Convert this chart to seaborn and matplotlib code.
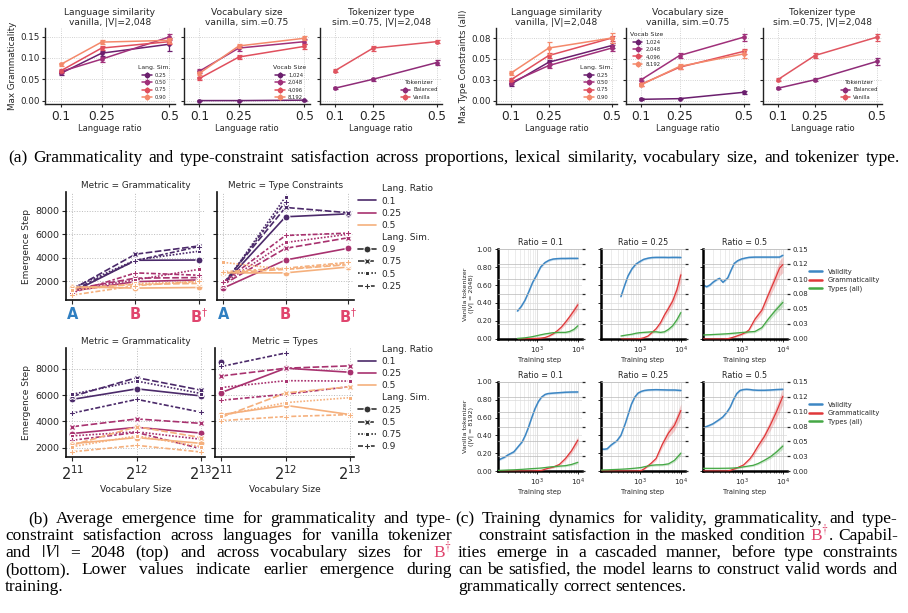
import numpy as np
import pandas as pd
import matplotlib
matplotlib.use("Agg")
import matplotlib.pyplot as plt
import seaborn as sns
from matplotlib.lines import Line2D
from matplotlib.ticker import LogLocator, NullFormatter, NullLocator

sns.set_theme(style="ticks")
plt.rcParams["font.family"] = ["DejaVu Sans"]
plt.rcParams["mathtext.fontset"] = "dejavusans"

W, H = 908, 613
fig = plt.figure(figsize=(W / 100, H / 100), dpi=100)


def ax_px(l, t, r, b):
    return fig.add_axes([l / W, 1 - b / H, (r - l) / W, (b - t) / H])


# ---------------------------------------------------------------- (a) data
lang_ratio = [0.1, 0.25, 0.5]
ratio_ticklabels = ["0.1", "0.25", "0.5"]
sim_labels = ["0.25", "0.50", "0.75", "0.90"]
vocab_labels = ["1,024", "2,048", "4,096", "8,192"]
tok_labels = ["Balanced", "Vanilla"]

gram_sim = [[0.064, 0.111, 0.132], [0.068, 0.097, 0.149], [0.070, 0.123, 0.138], [0.085, 0.137, 0.141]]
gram_sim_err = [[0.004, 0.006, 0.015], [0.004, 0.006, 0.008], [0.003, 0.005, 0.006], [0.004, 0.005, 0.005]]
gram_vocab = [[0.000, 0.000, 0.001], [0.069, 0.123, 0.138], [0.052, 0.102, 0.127], [0.064, 0.128, 0.146]]
gram_vocab_err = [[0.001, 0.001, 0.001], [0.004, 0.006, 0.006], [0.003, 0.005, 0.006], [0.004, 0.005, 0.005]]
gram_tok = [[0.029, 0.050, 0.089], [0.070, 0.123, 0.138]]
gram_tok_err = [[0.003, 0.004, 0.005], [0.004, 0.006, 0.004]]

type_sim = [[0.0197, 0.046, 0.066], [0.0217, 0.042, 0.063], [0.025, 0.054, 0.075], [0.033, 0.063, 0.075]]
type_sim_err = [[0.002, 0.003, 0.003], [0.002, 0.003, 0.004], [0.002, 0.003, 0.003], [0.002, 0.007, 0.006]]
type_vocab = [[0.0016, 0.0024, 0.010], [0.025, 0.054, 0.076], [0.0196, 0.040, 0.059], [0.019, 0.041, 0.056]]
type_vocab_err = [[0.001, 0.001, 0.002], [0.002, 0.003, 0.004], [0.002, 0.002, 0.003], [0.002, 0.003, 0.005]]
type_tok = [[0.0148, 0.025, 0.047], [0.025, 0.054, 0.076]]
type_tok_err = [[0.001, 0.002, 0.004], [0.002, 0.003, 0.004]]

four_colors = ["#6b1f6e", "#a0307a", "#e04f5d", "#f4896b"]
tok_colors = ["#8f2c78", "#e05560"]


def panel_a(ax, means, errs, labels, colors, title, leg_title, leg_loc,
            yticks, yticklabels, ylim, ylabel=None):
    for m, e, c in zip(means, errs, colors):
        d = pd.DataFrame({"ratio": lang_ratio, "val": m})
        sns.lineplot(data=d, x="ratio", y="val", color=c, marker="o", markersize=3.4,
                     markeredgewidth=0, linewidth=1.1, ax=ax, legend=False)
        ax.errorbar(lang_ratio, m, yerr=e, fmt="none", ecolor=c, elinewidth=0.9,
                    capsize=1.8, capthick=0.9)
    handles = [(Line2D([], [], color=c, marker="o", ms=3, lw=1.1),
                Line2D([], [], color=c, marker="|", ms=5, ls="none", mew=0.9)) for c in colors]
    ax.legend(handles, labels, title=leg_title, loc=leg_loc, fontsize=3.8, title_fontsize=4.4,
              frameon=False, handlelength=1.8, labelspacing=0.45, borderaxespad=0.4,
              handletextpad=0.6)
    ax.set_xlim(0.041, 0.521)
    ax.set_xticks(lang_ratio)
    ax.set_xticklabels(ratio_ticklabels, fontsize=8.7)
    ax.set_ylim(ylim)
    ax.set_yticks(yticks)
    if ylabel:
        ax.set_yticklabels(yticklabels, fontsize=6.3)
        ax.set_ylabel(ylabel, fontsize=6.3, labelpad=2)
    else:
        ax.set_yticklabels([])
        ax.set_ylabel("")
    ax.set_xlabel("Language ratio", fontsize=6.0, labelpad=1)
    ax.set_title(title, fontsize=6.6, pad=2.5, linespacing=1.05)
    ax.grid(True, ls=":", lw=0.6, color="#c4c4c4")
    for s in ["top", "right"]:
        ax.spines[s].set_visible(False)
    for s in ["left", "bottom"]:
        ax.spines[s].set_linewidth(1.0)
        ax.spines[s].set_color("#222222")
    ax.tick_params(axis="both", length=2.5, width=0.8, pad=1.5)


g_ticks = [0, 0.05, 0.10, 0.15]
g_labels = ["0.00", "0.05", "0.10", "0.15"]
g_lim = (-0.008, 0.17)
t_ticks = [0, 0.025, 0.05, 0.075]
t_labels = ["0.00", "0.03", "0.05", "0.08"]
t_lim = (-0.004, 0.087)

a1 = ax_px(45, 28, 175, 104)
a2 = ax_px(184, 28, 310, 104)
a3 = ax_px(320, 28, 442, 104)
a4 = ax_px(496, 28, 617, 104)
a5 = ax_px(626, 28, 749, 104)
a6 = ax_px(763, 28, 882, 104)

panel_a(a1, gram_sim, gram_sim_err, sim_labels, four_colors,
        "Language similarity\nvanilla, |V|=2,048", "Lang. Sim.", "lower right",
        g_ticks, g_labels, g_lim, "Max Grammaticality")
panel_a(a2, gram_vocab, gram_vocab_err, vocab_labels, four_colors,
        "Vocabulary size\nvanilla, sim.=0.75", "Vocab Size", "lower right",
        g_ticks, g_labels, g_lim)
panel_a(a3, gram_tok, gram_tok_err, tok_labels, tok_colors,
        "Tokenizer type\nsim.=0.75, |V|=2,048", "Tokenizer", "lower right",
        g_ticks, g_labels, g_lim)
panel_a(a4, type_sim, type_sim_err, sim_labels, four_colors,
        "Language similarity\nvanilla, |V|=2,048", "Lang. Sim.", "lower right",
        t_ticks, t_labels, t_lim, "Max Type Constraints (all)")
panel_a(a5, type_vocab, type_vocab_err, vocab_labels, four_colors,
        "Vocabulary size\nvanilla, sim.=0.75", "Vocab Size", "upper left",
        t_ticks, t_labels, t_lim)
panel_a(a6, type_tok, type_tok_err, tok_labels, tok_colors,
        "Tokenizer type\nsim.=0.75, |V|=2,048", "Tokenizer", "lower right",
        t_ticks, t_labels, t_lim)

# ---------------------------------------------------------------- (b) data
ratio_levels = ["0.1", "0.25", "0.5"]
stage_labels = ["A", "B", "B$^{\\dagger}$"]
stage_colors = ["#2f7fc1", "#e0456e", "#e0456e"]
sim_top = ["0.9", "0.75", "0.5", "0.25"]
sim_bottom = ["0.25", "0.5", "0.75", "0.9"]
vocab_sizes = [2048, 4096, 8192]
nan = float("nan")

# rows follow sim_top order; columns A, B, B-dagger
gram_stage_r01 = [[1050, 3780, 3800], [1300, 4300, 5000], [1400, 3800, 4550], [1200, 3750, 4950]]
gram_stage_r025 = [[1150, 1950, 2100], [1300, 2250, 2300], [1250, 2100, 3000], [1000, 2700, 2500]]
gram_stage_r05 = [[1500, 1400, 1450], [1400, 1700, 1800], [1200, 1800, 1900], [800, 1600, 2000]]
type_stage_r01 = [[1700, 7500, 7750], [1800, 8300, 7850], [1600, 9200, nan], [1700, 8800, nan]]
type_stage_r025 = [[1400, 3800, 4800], [1700, 4800, 5700], [1800, 5300, 6000], [1900, 5900, 6100]]
type_stage_r05 = [[2700, 2700, 3200], [2700, 3000, 3400], [3600, 3000, 3500], [2800, 3100, 3600]]

# rows follow sim_bottom order; columns 2^11, 2^12, 2^13
gram_vocab_r01 = [[5680, 6480, 5940], [5910, 7330, 6380], [6070, 7070, 6120], [4630, 5680, 4700]]
gram_vocab_r025 = [[3080, 3550, 3110], [3600, 4190, 3850], [2900, 3210, 2640], [2570, 3160, 1920]]
gram_vocab_r05 = [[2310, 2770, 2330], [2200, 3600, 2770], [2080, 2900, 2080], [1690, 2180, 1670]]
type_vocab_r01 = [[8490, nan, nan], [nan, nan, nan], [nan, nan, nan], [8180, 9210, nan]]
type_vocab_r025 = [[6200, 8050, 7740], [7460, 8050, 8230], [6580, 7100, 7070], [5610, 6070, 6650]]
type_vocab_r05 = [[4520, 5220, 4520], [4320, 6170, 6640], [4450, 5430, 5810], [4060, 4370, 4520]]

b_palette = ["#4b2a6a", "#a8326f", "#f5b07d"]


def long_df(blocks, xs, sims):
    rows = []
    for rl, block in zip(ratio_levels, blocks):
        for sl, vals in zip(sims, block):
            for x, v in zip(xs, vals):
                if not np.isnan(v):
                    rows.append({"x": x, "Emergence Step": v, "Lang. Ratio": rl, "Lang. Sim.": sl})
    return pd.DataFrame(rows)


def style_b(ax, title, first):
    ax.set_title(title, fontsize=6.4, pad=3)
    ax.grid(True, ls=":", lw=0.7, color="#bbbbbb")
    for s in ["top", "right"]:
        ax.spines[s].set_visible(False)
    for s in ["left", "bottom"]:
        ax.spines[s].set_linewidth(1.2)
        ax.spines[s].set_color("#111111")
    ax.set_yticks([2000, 4000, 6000, 8000])
    ax.tick_params(axis="y", labelsize=6.8, length=3, width=0.8, pad=2)
    ax.tick_params(axis="x", length=3, width=0.8, pad=2)
    if first:
        ax.set_ylabel("Emergence Step", fontsize=6.5, labelpad=3)
    else:
        ax.set_ylabel("")
        ax.tick_params(axis="y", labelleft=False)


x_stage = [0, 1, 2]
b1 = ax_px(66, 192, 205, 300)
b2 = ax_px(217, 192, 354, 300)
b2.sharey(b1)
for ax, blocks, title, first in [(b1, [gram_stage_r01, gram_stage_r025, gram_stage_r05], "Metric = Grammaticality", True),
                                  (b2, [type_stage_r01, type_stage_r025, type_stage_r05], "Metric = Type Constraints", False)]:
    df = long_df(blocks, x_stage, sim_top)
    sns.lineplot(data=df, x="x", y="Emergence Step", hue="Lang. Ratio", style="Lang. Sim.",
                 hue_order=ratio_levels, style_order=sim_top, palette=b_palette,
                 markers=True, dashes=True, markersize=5, linewidth=1.2, ax=ax,
                 legend=not first, errorbar=None)
    style_b(ax, title, first)
    ax.set_xlim(-0.1, 2.1)
    ax.set_xticks(x_stage)
    ax.set_xticklabels(stage_labels, fontsize=10.5, fontweight="bold")
    for tl, c in zip(ax.get_xticklabels(), stage_colors):
        tl.set_color(c)
    ax.set_xlabel("")
sns.move_legend(b2, "upper left", bbox_to_anchor=(1.03, 1.07), frameon=False, fontsize=6.5,
                handlelength=2.0, borderaxespad=0, borderpad=0, labelspacing=0.35,
                handletextpad=0.6)

b3 = ax_px(66, 348, 205, 457)
b4 = ax_px(215, 348, 354, 457)
b4.sharey(b3)
for ax, blocks, title, first in [(b3, [gram_vocab_r01, gram_vocab_r025, gram_vocab_r05], "Metric = Grammaticality", True),
                                  (b4, [type_vocab_r01, type_vocab_r025, type_vocab_r05], "Metric = Types", False)]:
    df = long_df(blocks, vocab_sizes, sim_bottom)
    ax.set_xscale("log", base=2)
    sns.lineplot(data=df, x="x", y="Emergence Step", hue="Lang. Ratio", style="Lang. Sim.",
                 hue_order=ratio_levels, style_order=sim_bottom, palette=b_palette,
                 markers=True, dashes=True, markersize=5, linewidth=1.2, ax=ax,
                 legend=not first, errorbar=None)
    style_b(ax, title, first)
    ax.set_xticks(vocab_sizes)
    ax.set_xticklabels([r"$2^{11}$", r"$2^{12}$", r"$2^{13}$"], fontsize=10.5)
    ax.xaxis.set_minor_locator(NullLocator())
    ax.set_xlim(2048 / 2 ** 0.1, 8192 * 2 ** 0.06)
    ax.set_xlabel("Vocabulary Size", fontsize=6.5, labelpad=2)
sns.move_legend(b4, "upper left", bbox_to_anchor=(1.03, 1.03), frameon=False, fontsize=6.5,
                handlelength=2.0, borderaxespad=0, borderpad=0, labelspacing=0.35,
                handletextpad=0.6)

# ---------------------------------------------------------------- (c) data
steps_top_r01 = [340, 420, 520, 650, 800, 1000, 1250, 1600, 2000, 2500, 3200, 4000, 5000, 6300, 8000, 10000]
valid_top_r01 = [0.31, 0.36, 0.43, 0.53, 0.63, 0.71, 0.80, 0.85, 0.875, 0.888, 0.893, 0.895, 0.895, 0.896, 0.896, 0.896]
gram_top_r01 = [0.0, 0.0, 0.0003, 0.0005, 0.0008, 0.001, 0.0015, 0.0025, 0.005, 0.0085, 0.014, 0.020, 0.028, 0.037, 0.047, 0.057]
types_top_r01 = [0.001, 0.0015, 0.002, 0.003, 0.004, 0.0055, 0.007, 0.0085, 0.0095, 0.0105, 0.011, 0.011, 0.011, 0.0125, 0.016, 0.022]

steps_top_r025 = [350, 420, 520, 650, 800, 1000, 1250, 1600, 2000, 2500, 3200, 4000, 5000, 6300, 8000, 10000]
valid_top_r025 = [0.47, 0.58, 0.70, 0.78, 0.83, 0.86, 0.885, 0.898, 0.905, 0.907, 0.907, 0.907, 0.906, 0.907, 0.907, 0.906]
gram_top_r025 = [0.0, 0.0, 0.0, 0.0, 0.0, 0.0005, 0.002, 0.005, 0.011, 0.017, 0.027, 0.040, 0.051, 0.063, 0.082, 0.107]
types_top_r025 = [0.005, 0.006, 0.007, 0.008, 0.0095, 0.0105, 0.011, 0.0115, 0.012, 0.012, 0.011, 0.012, 0.016, 0.022, 0.032, 0.044]

steps_top_r05 = [117, 140, 170, 200, 250, 290, 350, 460, 560, 660, 800, 1000, 1250, 1500, 2100, 3100, 4400, 6300, 8300, 10000]
valid_top_r05 = [0.60, 0.58, 0.60, 0.63, 0.66, 0.674, 0.63, 0.68, 0.77, 0.84, 0.87, 0.89, 0.90, 0.907, 0.91, 0.91, 0.91, 0.91, 0.91, 0.93]
gram_top_r05 = [0.0, 0.0, 0.0, 0.0, 0.0, 0.0, 0.0, 0.0005, 0.002, 0.0035, 0.0055, 0.0078, 0.011, 0.015, 0.033, 0.048, 0.073, 0.098, 0.118, 0.124]
types_top_r05 = [0.0067, 0.007, 0.0072, 0.0075, 0.0078, 0.008, 0.0083, 0.0088, 0.0093, 0.0097, 0.0102, 0.0108, 0.0113, 0.0118, 0.0125, 0.019, 0.033, 0.046, 0.055, 0.061]

steps_bot = [117, 140, 163, 200, 280, 350, 445, 530, 630, 760, 910, 1100, 1310, 1600, 1890, 2500, 3550, 5000, 7000, 10000]
valid_bot_r01 = [0.123, 0.14, 0.153, 0.18, 0.216, 0.27, 0.328, 0.40, 0.489, 0.60, 0.70, 0.78, 0.83, 0.86, 0.87, 0.875, 0.88, 0.885, 0.887, 0.888]
gram_bot_r01 = [0.0, 0.0, 0.0, 0.0, 0.0, 0.0, 0.0, 0.0, 0.0, 0.0, 0.0002, 0.0005, 0.001, 0.003, 0.0045, 0.0065, 0.011, 0.021, 0.034, 0.052]
types_bot_r01 = [0.001, 0.0012, 0.0014, 0.0017, 0.002, 0.0024, 0.0028, 0.0032, 0.0036, 0.004, 0.0043, 0.0047, 0.0051, 0.0058, 0.0065, 0.0073, 0.0082, 0.009, 0.011, 0.0146]
valid_bot_r025 = [0.246, 0.245, 0.25, 0.29, 0.34, 0.40, 0.53, 0.64, 0.75, 0.83, 0.875, 0.895, 0.905, 0.91, 0.912, 0.914, 0.912, 0.91, 0.91, 0.905]
gram_bot_r025 = [0.0, 0.0, 0.0, 0.0, 0.0, 0.0, 0.0, 0.0, 0.0, 0.0, 0.0, 0.001, 0.004, 0.009, 0.013, 0.021, 0.045, 0.064, 0.077, 0.102]
types_bot_r025 = [0.0017, 0.0019, 0.002, 0.0023, 0.0027, 0.003, 0.0034, 0.0038, 0.0042, 0.0047, 0.0053, 0.006, 0.0072, 0.0085, 0.0095, 0.0103, 0.0105, 0.012, 0.018, 0.030]
valid_bot_r05 = [0.489, 0.50, 0.512, 0.53, 0.575, 0.608, 0.665, 0.72, 0.80, 0.87, 0.905, 0.915, 0.918, 0.915, 0.91, 0.907, 0.907, 0.91, 0.915, 0.918]
gram_bot_r05 = [0.0, 0.0, 0.0, 0.0, 0.0, 0.0, 0.0, 0.001, 0.003, 0.005, 0.0075, 0.010, 0.015, 0.021, 0.028, 0.042, 0.058, 0.078, 0.100, 0.126]
types_bot_r05 = [0.0045, 0.0045, 0.0045, 0.0045, 0.0045, 0.0046, 0.0047, 0.0048, 0.005, 0.0055, 0.006, 0.007, 0.0078, 0.0088, 0.0095, 0.0125, 0.018, 0.024, 0.032, 0.042]

c_blue, c_red, c_green = "#3d87c4", "#e0383a", "#45a845"
left_ticks = [0.0, 0.2, 0.4, 0.6, 0.8, 1.0]
left_labels = ["0.00", "0.20", "0.40", "0.60", "0.80", "1.00"]
right_ticks = [0.0, 0.025, 0.05, 0.075, 0.10, 0.125, 0.15]
right_labels = ["0.00", "0.03", "0.05", "0.08", "0.10", "0.12", "0.15"]
c_titles = ["Ratio = 0.1", "Ratio = 0.25", "Ratio = 0.5"]


def panel_c(ax, steps, val, gram, types, title, first, last, ylabel=None, legend_y=0.8):
    ax.set_xscale("log")
    tw = ax.twinx()
    s = np.array(steps, dtype=float)
    v, g, t = np.array(val), np.array(gram), np.array(types)
    ax.fill_between(s, v - 0.012, v + 0.012, color=c_blue, alpha=0.25, lw=0)
    d = pd.DataFrame({"step": s, "val": v, "gram": g, "types": t})
    sns.lineplot(data=d, x="step", y="val", color=c_blue, linewidth=1.1, ax=ax, legend=False)
    tw.fill_between(s, g * 0.9 - 0.001, g * 1.1 + 0.001, color=c_red, alpha=0.25, lw=0)
    tw.fill_between(s, t * 0.9 - 0.0008, t * 1.1 + 0.0008, color=c_green, alpha=0.25, lw=0)
    sns.lineplot(data=d, x="step", y="gram", color=c_red, linewidth=0.9, ax=tw, legend=False)
    sns.lineplot(data=d, x="step", y="types", color=c_green, linewidth=0.9, ax=tw, legend=False)
    ax.set_xlim(115, 12600)
    ax.set_ylim(0, 1.0)
    tw.set_ylim(0, 0.15)
    ax.xaxis.set_major_locator(LogLocator(base=10))
    ax.xaxis.set_minor_locator(LogLocator(base=10, subs=np.arange(2, 10)))
    ax.xaxis.set_minor_formatter(NullFormatter())
    ax.set_xticks([1e3, 1e4])
    ax.set_xticklabels([r"$10^3$", r"$10^4$"], fontsize=5.2)
    ax.set_yticks(left_ticks)
    ax.set_yticklabels(left_labels if first else [], fontsize=5.0)
    tw.set_yticks(right_ticks)
    tw.set_yticklabels(right_labels if last else [], fontsize=5.0)
    ax.grid(True, which="major", axis="x", color="#cfcfcf", lw=0.5)
    ax.grid(True, which="minor", axis="x", color="#dedede", lw=0.4)
    ax.grid(True, axis="y", color="#dadada", lw=0.5)
    tw.grid(True, axis="y", color="#b8b8b8", lw=0.5)
    tw.grid(False, axis="x")
    for sp in ["top", "right"]:
        ax.spines[sp].set_visible(False)
    for sp in tw.spines.values():
        sp.set_visible(False)
    for sp in ["left", "bottom"]:
        ax.spines[sp].set_linewidth(1.8)
        ax.spines[sp].set_color("black")
    ax.tick_params(axis="both", which="major", length=2.5, width=0.7, pad=1.5)
    ax.tick_params(axis="x", which="minor", length=1.5, width=0.5)
    tw.tick_params(axis="y", length=2.5, width=0.9, pad=1.5)
    ax.set_title(title, fontsize=5.8, pad=3)
    ax.set_xlabel("Training step", fontsize=4.8, labelpad=1)
    ax.set_ylabel(ylabel if ylabel else "", fontsize=4.6, labelpad=2, linespacing=1.1)
    tw.set_ylabel("")
    if last:
        hs = [Line2D([], [], color=c, lw=1.8) for c in (c_blue, c_red, c_green)]
        tw.legend(hs, ["Validity", "Grammaticality", "Types (all)"], loc="upper left",
                  bbox_to_anchor=(1.26, legend_y), frameon=False, fontsize=4.9,
                  handlelength=2.0, labelspacing=0.35, borderaxespad=0, borderpad=0,
                  handletextpad=0.8)


top_sets = [(steps_top_r01, valid_top_r01, gram_top_r01, types_top_r01),
            (steps_top_r025, valid_top_r025, gram_top_r025, types_top_r025),
            (steps_top_r05, valid_top_r05, gram_top_r05, types_top_r05)]
bot_sets = [(steps_bot, valid_bot_r01, gram_bot_r01, types_bot_r01),
            (steps_bot, valid_bot_r025, gram_bot_r025, types_bot_r025),
            (steps_bot, valid_bot_r05, gram_bot_r05, types_bot_r05)]
c_lefts = [498, 601, 703]
for i, (st, va, gr, ty) in enumerate(top_sets):
    ax = ax_px(c_lefts[i], 249, c_lefts[i] + 84, 339)
    panel_c(ax, st, va, gr, ty, c_titles[i], i == 0, i == 2,
            "Vanilla tokenizer\n(|V| = 2048)" if i == 0 else None, legend_y=0.78)
for i, (st, va, gr, ty) in enumerate(bot_sets):
    ax = ax_px(c_lefts[i], 382, c_lefts[i] + 84, 471)
    panel_c(ax, st, va, gr, ty, c_titles[i], i == 0, i == 2,
            "Vanilla tokenizer\n(|V| = 8192)" if i == 0 else None, legend_y=0.78)

# ---------------------------------------------------------------- captions
renderer = fig.canvas.get_renderer()
SERIF = "Liberation Serif"
PINK = "#e0456e"


def text_w(s, size):
    t = fig.text(0, 0, s, fontsize=size, family=SERIF, math_fontfamily="stix")
    w = t.get_window_extent(renderer).width
    t.remove()
    return w


def plain(s):
    return [(w, "black", False) for w in s.split()]


cap_a = plain("(a) Grammaticality and type-constraint satisfaction across proportions, "
              "lexical similarity, vocabulary size, and tokenizer type.")
lines_bc = [
    (28, 452, 523, plain("(b) Average emergence time for grammaticality and type-"), True),
    (5, 452, 540, plain("constraint satisfaction across languages for vanilla tokenizer"), True),
    (5, 452, 557, plain("and") + [(r"$|V|$", "black", False), ("=", "black", False)]
     + plain("2048 (top) and across vocabulary sizes for") + [("B$^{\\dagger}$", PINK, False)], True),
    (5, 452, 574, plain("(bottom). Lower values indicate earlier emergence during"), True),
    (5, 452, 591, plain("training."), False),
    (455, 898, 523, plain("(c) Training dynamics for validity, grammaticality, and type-"), True),
    (478, 898, 540, plain("constraint satisfaction in the masked condition")
     + [("B$^{\\dagger}$", PINK, False), (".", "black", True)] + plain("Capabil-"), True),
    (458, 898, 557, plain("ities emerge in a cascaded manner, before type constraints"), True),
    (458, 898, 574, plain("can be satisfied, the model learns to construct valid words and"), True),
    (458, 898, 591, plain("grammatically correct sentences."), False),
]

REF = 10.0
space_ref = text_w("a b", REF) - text_w("ab", REF)


def natural_width(words, size):
    w = sum(text_w(t, size) for t, c, a in words)
    gaps = sum(1 for (t, c, a) in words[1:] if not a)
    return w + gaps * space_ref * size / REF


fits = [REF * (900 - 8) / natural_width(cap_a, REF)]
for x0, x1, y, words, just in lines_bc:
    if just:
        fits.append(REF * (x1 - x0) / natural_width(words, REF))
CAP = min(fits) * 0.99


def draw_line(x0, x1, y, words, size, justify=True):
    widths = [text_w(w, size) for w, c, a in words]
    n_gaps = sum(1 for (w, c, a) in words[1:] if not a)
    natural = space_ref * size / REF
    if justify and n_gaps > 0:
        gap = (x1 - x0 - sum(widths)) / n_gaps
    else:
        gap = natural
    x = x0
    for k, ((w, c, a), wd) in enumerate(zip(words, widths)):
        if k > 0 and not a:
            x += gap
        fig.text(x / W, 1 - y / H, w, fontsize=size, family=SERIF, color=c,
                 va="baseline", ha="left", math_fontfamily="stix")
        x += wd


draw_line(8, 900, 162, cap_a, CAP)
for x0, x1, y, words, just in lines_bc:
    draw_line(x0, x1, y, words, CAP, justify=just)

fig.savefig("out.png", dpi=100)
